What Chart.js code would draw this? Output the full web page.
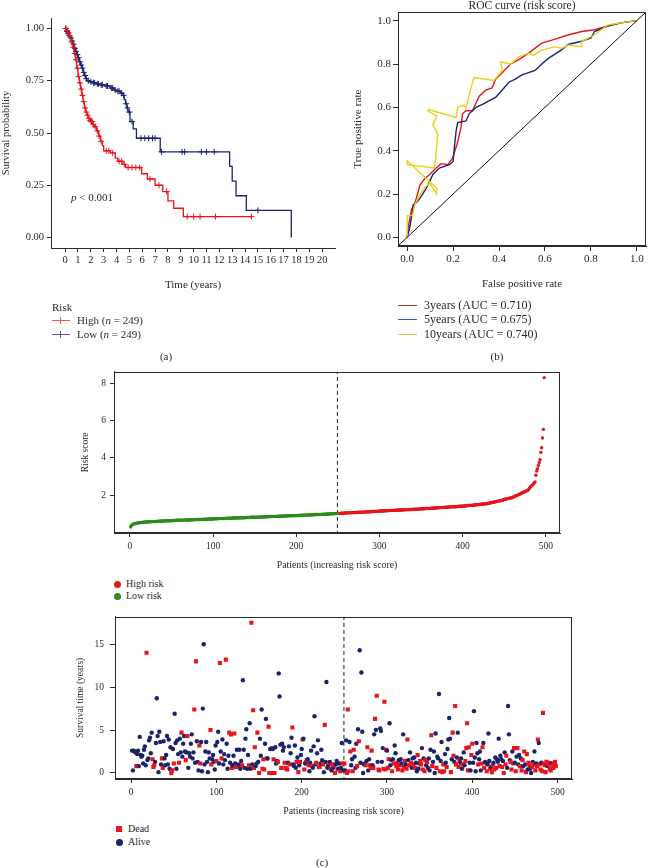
<!DOCTYPE html>
<html><head><meta charset="utf-8">
<script src="https://cdn.jsdelivr.net/npm/chart.js@4.4.1/dist/chart.umd.min.js"></script>
<style>
body{margin:0;background:#fff;width:649px;height:868px;position:relative;overflow:hidden;font-family:'Liberation Serif','Times New Roman',serif;color:#2a2a2a}
canvas{position:absolute}
.t{position:absolute;white-space:nowrap;font-family:'Liberation Serif','Times New Roman',serif;color:#2a2a2a;line-height:1}
.c{transform:translate(-50%,-50%)}
.l{transform:translate(0,-50%)}
.ln{position:absolute;height:1px}
</style></head><body>
<canvas id="km" style="left:0;top:0" width="340" height="300"></canvas>
<canvas id="roc" style="left:330px;top:0" width="319" height="300"></canvas>
<canvas id="risk" style="left:0;top:362px" width="649" height="210"></canvas>
<canvas id="surv" style="left:0;top:605px" width="649" height="215"></canvas>

<div class="t l" style="left:71px;top:197px;font-size:11px"><i>p</i> &lt; 0.001</div>

<div class="t l" style="left:52px;top:307px;font-size:11px">Risk</div>
<div class="ln" style="left:52px;top:320px;width:18px;background:#ee5555"></div>
<div class="ln" style="left:60px;top:317px;width:1px;height:7px;background:#ee5555"></div>
<div class="t l" style="left:77px;top:320px;font-size:11px">High (<i>n</i> = 249)</div>
<div class="ln" style="left:52px;top:334px;width:18px;background:#55598f"></div>
<div class="ln" style="left:60px;top:331px;width:1px;height:7px;background:#55598f"></div>
<div class="t l" style="left:77px;top:334px;font-size:11px">Low (<i>n</i> = 249)</div>
<div class="t c" style="left:166px;top:356px;font-size:11px">(a)</div>

<div class="ln" style="left:398px;top:305px;width:19px;background:#b03535"></div>
<div class="t l" style="left:424px;top:305px;font-size:12px">3years (AUC = 0.710)</div>
<div class="ln" style="left:398px;top:319px;width:19px;background:#4656b0"></div>
<div class="t l" style="left:424px;top:319px;font-size:12px">5years (AUC = 0.675)</div>
<div class="ln" style="left:398px;top:334px;width:19px;background:#cccc48"></div>
<div class="t l" style="left:424px;top:334px;font-size:12px">10years (AUC = 0.740)</div>
<div class="t c" style="left:497px;top:356px;font-size:11px">(b)</div>

<div style="position:absolute;left:113.5px;top:580.5px;width:7px;height:7px;border-radius:50%;background:#e31a1c"></div>
<div class="t l" style="left:126px;top:584px;font-size:10px">High risk</div>
<div style="position:absolute;left:113.5px;top:592.5px;width:7px;height:7px;border-radius:50%;background:#2e8b1e"></div>
<div class="t l" style="left:126px;top:596px;font-size:10px">Low risk</div>

<div style="position:absolute;left:116px;top:826px;width:6px;height:6px;background:#e31a1c"></div>
<div class="t l" style="left:128px;top:829px;font-size:10px">Dead</div>
<div style="position:absolute;left:115.5px;top:838.5px;width:7px;height:7px;border-radius:50%;background:#1a2366"></div>
<div class="t l" style="left:128px;top:842px;font-size:10px">Alive</div>
<div class="t c" style="left:322px;top:862px;font-size:11px">(c)</div>

<script>
// ---------- Kaplan-Meier data ----------
const kmHighTime = [0,0.1,0.2,0.3,0.4,0.5,0.6,0.7,0.8,0.9,1.0,1.1,1.2,1.3,1.4,1.5,1.6,1.7,1.8,1.9,2.0,2.15,2.3,2.45,2.6,2.75,2.9,3.0,3.5,3.9,4.1,4.5,4.7,5.95,6.4,7.0,7.6,8.0,8.45,9.2,14.55];
const kmHighSurv = [1,0.99,0.98,0.965,0.95,0.935,0.91,0.88,0.85,0.81,0.77,0.74,0.71,0.68,0.65,0.62,0.6,0.585,0.57,0.56,0.555,0.54,0.53,0.51,0.485,0.46,0.44,0.415,0.405,0.38,0.365,0.35,0.335,0.305,0.28,0.25,0.22,0.175,0.14,0.10,0.10];
const kmLowTime = [0,0.1,0.2,0.3,0.4,0.5,0.6,0.7,0.8,0.9,1.0,1.1,1.2,1.3,1.4,1.5,1.6,1.7,1.9,2.1,2.4,2.7,3.1,3.5,3.8,4.0,4.3,4.5,4.6,4.7,4.8,4.9,5.05,5.3,5.55,7.4,12.8,13.0,13.3,14.1,17.6];
const kmLowSurv = [1,0.985,0.975,0.965,0.955,0.94,0.925,0.905,0.89,0.875,0.86,0.84,0.825,0.81,0.79,0.775,0.76,0.75,0.745,0.74,0.735,0.73,0.725,0.715,0.705,0.70,0.69,0.68,0.66,0.64,0.62,0.60,0.555,0.52,0.475,0.41,0.34,0.27,0.20,0.13,0.0];
const kmHighCensor = [0.05,0.15,0.25,0.35,0.5,0.65,0.75,0.85,0.95,1.05,1.15,1.25,1.35,1.45,1.55,1.65,1.75,1.85,1.95,2.05,2.1,2.2,2.35,2.5,2.65,2.8,3.2,3.4,3.7,4.2,4.4,4.6,4.9,5.2,5.5,5.8,6.6,7.3,7.9,9.5,10.0,10.5,11.7,14.5];
const kmLowCensor = [0.05,0.15,0.25,0.35,0.45,0.55,0.65,0.75,0.85,0.95,1.05,1.15,1.25,1.35,1.45,1.55,1.65,1.8,2.0,2.2,2.3,2.5,2.6,2.8,2.9,3.2,3.3,3.6,3.7,3.9,4.1,4.2,4.4,4.55,4.75,4.85,5.0,5.2,5.9,6.2,6.5,6.8,7.0,7.5,9.1,9.3,10.6,11.0,11.6,15.0];
const kmXTicks = [0,1,2,3,4,5,6,7,8,9,10,11,12,13,14,15,16,17,18,19,20];
const kmYTicks = [0,0.25,0.5,0.75,1];

// ---------- ROC data ----------
const fpr3 = [0,0.004,0.01,0.019,0.03,0.04,0.055,0.076,0.098,0.126,0.148,0.177,0.198,0.22,0.234,0.241,0.256,0.284,0.30,0.313,0.342,0.37,0.385,0.414,0.45,0.486,0.529,0.586,0.63,0.70,0.76,0.816,0.888,0.93,1];
const tpr3 = [0,0.04,0.08,0.13,0.15,0.18,0.24,0.27,0.29,0.32,0.34,0.335,0.366,0.44,0.506,0.57,0.584,0.584,0.62,0.65,0.68,0.69,0.73,0.76,0.80,0.82,0.85,0.896,0.91,0.934,0.95,0.958,0.98,0.99,1];
const fpr5 = [0,0.01,0.02,0.026,0.04,0.055,0.083,0.112,0.14,0.184,0.2,0.205,0.213,0.22,0.256,0.27,0.3,0.33,0.356,0.385,0.414,0.443,0.471,0.5,0.557,0.586,0.615,0.672,0.70,0.76,0.80,0.816,0.874,0.93,1];
const tpr5 = [0,0.04,0.10,0.15,0.16,0.18,0.226,0.29,0.32,0.335,0.35,0.41,0.49,0.53,0.537,0.57,0.6,0.615,0.63,0.646,0.68,0.716,0.73,0.75,0.77,0.80,0.826,0.865,0.89,0.905,0.92,0.95,0.975,0.99,1];
const fpr10 = [0,0,0.023,0.033,0.052,0.076,0.098,0.129,0.129,0.09,0,0,0.119,0.134,0.112,0.129,0.09,0.093,0.213,0.22,0.249,0.256,0.29,0.378,0.414,0.407,0.45,0.486,0.529,0.55,0.586,0.644,0.672,0.70,0.759,0.759,0.816,0.874,0.93,1];
const tpr10 = [0,0.10,0.10,0.15,0.19,0.23,0.25,0.20,0.226,0.265,0.354,0.335,0.32,0.475,0.52,0.56,0.584,0.59,0.553,0.60,0.61,0.597,0.737,0.724,0.77,0.81,0.80,0.833,0.85,0.84,0.864,0.88,0.872,0.888,0.88,0.903,0.935,0.98,0.99,1];
const rocTicks = [0,0.2,0.4,0.6,0.8,1];

// ---------- Risk score data (patients ordered by increasing risk) ----------
const lowRiskScore = [
0.30,0.38,0.42,0.45,0.47,0.48,0.49,0.50,0.51,0.52,
0.53,0.53,0.54,0.55,0.55,0.56,
0.56,0.56,0.57,0.57,0.57,0.58,0.58,0.58,0.58,0.59,0.59,0.59,0.59,0.60,0.60,0.60,0.60,0.61,0.61,0.61,0.61,0.62,0.62,0.62,0.62,0.63,0.63,0.63,0.63,0.63,0.64,0.64,0.64,0.64,
0.65,0.65,0.65,0.65,0.65,0.66,0.66,0.66,0.66,0.66,0.66,0.67,0.67,0.67,0.67,0.67,0.68,0.68,0.68,0.68,0.68,0.68,0.69,0.69,0.69,0.69,0.69,0.70,0.70,0.70,0.70,0.70,0.70,0.71,0.71,0.71,0.71,0.71,0.72,0.72,0.72,0.72,0.72,0.72,0.73,0.73,0.73,0.73,0.73,0.73,
0.74,0.74,0.74,0.74,0.74,0.75,0.75,0.75,0.75,0.75,0.75,0.76,0.76,0.76,0.76,0.76,0.77,0.77,0.77,0.77,0.77,0.77,0.78,0.78,0.78,0.78,0.78,0.79,0.79,0.79,0.79,0.79,0.79,0.80,0.80,0.80,0.80,0.80,0.81,0.81,0.81,0.81,0.81,0.81,0.82,0.82,0.82,0.82,0.82,0.82,
0.83,0.83,0.83,0.83,0.83,0.84,0.84,0.84,0.84,0.84,0.84,0.85,0.85,0.85,0.85,0.85,0.86,0.86,0.86,0.86,0.86,0.86,0.87,0.87,0.87,0.87,0.87,0.88,0.88,0.88,0.88,0.88,0.88,0.89,0.89,0.89,0.89,0.89,0.90,0.90,0.90,0.90,0.90,0.90,0.91,0.91,0.91,0.91,0.91,0.91,
0.92,0.92,0.92,0.92,0.93,0.93,0.93,0.93,0.93,0.94,0.94,0.94,0.94,0.95,0.95,0.95,0.95,0.95,0.96,0.96,0.96,0.96,0.97,0.97,0.97,0.97,0.97,0.98,0.98,0.98,0.98,0.99,0.99,0.99,0.99,0.99,1.00,1.00,1.00,1.00,1.01,1.01,1.01,1.01,1.01,1.02,1.02,1.02,1.02];
const highRiskScore = [
1.03,1.03,1.03,1.03,1.04,1.04,1.04,1.04,1.05,1.05,1.05,1.05,1.06,1.06,1.06,1.06,1.07,1.07,1.07,1.07,1.08,1.08,1.08,1.08,1.09,1.09,1.09,1.09,1.09,1.10,1.10,1.10,1.10,1.11,1.11,1.11,1.11,1.12,1.12,1.12,1.12,1.13,1.13,1.13,1.13,1.14,1.14,1.14,1.15,1.15,1.15,
1.16,1.16,1.16,1.16,1.17,1.17,1.17,1.17,1.17,1.18,1.18,1.18,1.18,1.19,1.19,1.19,1.19,1.19,1.20,1.20,1.20,1.20,1.21,1.21,1.21,1.21,1.21,1.22,1.22,1.22,1.22,1.23,1.23,1.23,1.23,1.23,1.24,1.24,1.24,1.24,1.25,1.25,1.25,1.25,1.26,1.26,1.26,1.27,1.27,1.27,
1.28,1.28,1.28,1.28,1.29,1.29,1.29,1.30,1.30,1.30,1.30,1.31,1.31,1.31,1.32,1.32,1.32,1.32,1.33,1.33,1.33,1.34,1.34,1.34,1.34,1.35,1.35,1.35,1.36,1.36,1.36,1.36,1.37,1.37,1.37,1.38,1.38,1.38,1.38,1.39,1.39,1.39,1.40,1.40,1.40,1.41,1.41,1.41,1.42,1.42,
1.43,1.43,1.43,1.44,1.44,1.45,1.45,1.45,1.46,1.46,1.47,1.47,1.47,1.48,1.48,1.49,1.49,1.50,1.50,1.51,1.51,1.52,1.52,1.53,1.53,1.54,1.54,1.55,1.55,1.56,
1.57,1.58,1.59,1.60,1.61,1.62,1.63,1.64,1.65,1.66,1.67,1.68,1.69,1.70,1.71,1.72,1.73,1.74,1.76,1.78,
1.79,1.80,1.81,1.82,1.83,1.84,1.85,1.86,1.87,1.89,1.91,1.93,1.95,1.97,1.99,2.01,2.03,2.05,2.07,2.10,
2.12,2.14,2.16,2.18,2.20,2.22,2.24,2.26,2.30,2.36,2.42,2.48,2.52,2.56,2.60,
2.66,2.72,3.07,3.30,3.43,3.60,3.76,3.90,4.30,4.55,5.07,5.53,8.30];
const riskXTicks = [0,100,200,300,400,500];
const riskYTicks = [2,4,6,8];
const cutoffPatient = 249.5;

// ---------- Survival time / status per patient (same order) ----------
const survTime = [
2.6,0.3,2.6,2.5,2.4,0.8,2.2,2.6,0.8,4.2,
2.1,1.9,2.0,1.1,2.7,3.1,0.9,14.0,1.5,1.7,
3.8,4.1,2.3,4.7,1.6,0.7,0.9,1.3,3.5,8.7,
4.3,0.1,4.8,3.6,1.0,1.7,0.6,3.7,1.7,0.9,
2.1,4.3,1.0,3.9,0.5,3.0,0.0,0.3,2.8,1.1,
6.9,3.5,0.5,3.8,2.2,1.2,4.0,2.4,4.7,1.9,
3.4,4.3,2.5,1.5,2.4,4.3,0.6,2.3,1.9,3.4,
4.5,1.7,2.4,7.4,1.2,13.0,3.7,1.3,0.3,3.2,
1.1,3.6,0.2,7.5,15.0,1.0,2.5,3.6,1.3,0.1,
2.4,1.7,5.0,1.0,1.6,2.1,1.3,0.4,3.2,1.4,
3.6,4.8,1.1,12.8,2.5,1.7,3.9,1.0,2.2,1.5,
13.2,3.4,0.5,2.0,4.7,1.2,4.5,0.6,0.9,2.0,
4.6,1.1,0.7,2.7,0.8,1.0,2.7,0.5,1.4,0.9,
10.8,2.7,0.6,4.0,5.1,0.5,2.1,0.9,5.8,0.5,
17.5,1.0,7.3,0.6,3.0,0.8,1.1,4.7,1.3,0.0,
4.0,2.0,7.4,0.5,1.6,0.4,3.4,6.3,1.7,1.7,
5.4,0.0,2.8,0.0,2.9,2.8,1.6,0.0,3.0,1.1,
1.4,1.3,11.6,8.9,3.3,0.6,3.4,2.6,3.0,1.2,
0.6,0.5,0.4,1.2,3.1,1.0,2.3,4.1,5.3,1.0,
0.8,3.2,0.6,1.3,1.8,0.1,0.9,1.3,2.1,2.8,
3.9,4.0,0.4,1.1,1.3,1.5,1.6,0.9,0.2,1.2,
2.6,0.8,0.6,3.1,6.6,1.0,1.2,2.3,3.8,0.7,
0.7,1.1,2.7,1.5,1.0,0.1,5.6,1.3,10.6,0.6,
0.9,1.2,1.3,0.5,0.3,1.0,0.6,0.9,0.0,1.0,
1.4,0.4,0.5,1.1,0.2,0.6,3.5,1.1,0.3,
1.1,0.3,3.8,0.0,7.4,0.2,3.6,2.5,0.9,1.6,
0.2,2.7,1.9,0.6,3.4,0.8,5.1,3.7,14.3,1.2,
11.7,4.8,0.0,1.0,1.1,0.9,1.4,3.0,0.3,1.6,
0.9,0.6,2.6,0.9,0.6,4.5,6.3,5.0,9.0,1.3,
0.4,0.3,5.2,4.9,1.3,2.9,0.5,8.3,0.4,2.7,
2.6,0.6,1.6,5.8,0.9,1.5,0.2,1.6,1.1,3.2,
2.3,0.8,1.2,0.4,1.5,0.9,1.6,1.1,0.3,4.5,
0.7,1.4,1.0,0.5,3.9,1.5,0.9,2.4,1.2,0.6,
1.7,1.0,1.8,0.6,1.2,0.2,2.1,0.5,1.1,1.4,
1.0,2.9,0.4,1.7,0.2,1.5,0.9,1.3,0.6,1.7,
0.3,2.7,4.4,0.8,1.3,2.5,0.0,4.6,0.6,1.9,
1.7,9.2,0.2,1.4,3.6,0.1,1.0,0.2,2.2,1.2,
0.7,2.8,3.9,6.4,4.0,0.1,1.6,4.7,2.0,1.3,
7.8,1.0,1.8,4.7,0.7,1.5,1.2,1.7,0.5,1.0,
2.4,0.9,1.4,2.9,5.8,0.3,3.0,1.2,0.3,2.1,
3.4,1.2,7.2,1.8,0.2,3.5,2.3,1.0,1.6,2.5,
0.3,1.1,3.0,3.5,0.6,1.3,1.2,0.2,1.0,4.6,
1.4,0.5,0.7,0.1,0.9,1.2,0.4,1.8,0.6,1.6,
1.3,4.0,0.8,2.0,1.6,0.7,1.4,0.0,2.4,1.0,
2.0,0.6,7.8,4.5,1.5,1.3,0.4,2.5,1.1,2.9,
1.2,0.2,1.9,2.9,1.0,2.1,0.8,1.7,0.3,1.5,
0.8,2.5,1.0,0.1,2.2,0.4,1.2,0.9,0.5,0.0,
0.7,1.3,1.0,2.5,0.3,1.1,0.8,3.9,3.5,1.0,
0.4,1.2,0.2,7.0,1.1,0.9,0.1,1.3,0.8,1.0,
1.2,0.5,0.3,1.1,0.9,0.6,1.0,1.3,0.8];
const survStatus = [
0,0,0,0,0,1,0,0,0,0,
0,0,0,0,0,0,0,1,0,0,
0,0,0,0,1,1,1,0,0,0,
0,0,0,0,0,1,1,0,0,0,
0,0,0,0,0,0,1,1,0,1,
0,0,0,0,0,1,0,0,1,0,
0,0,0,1,0,1,0,0,0,0,
0,0,0,1,0,1,0,0,0,1,
1,0,0,0,0,0,0,0,0,0,
0,0,1,1,0,0,0,0,0,1,
0,0,0,1,0,1,0,0,0,0,
1,0,0,0,1,0,1,1,0,0,
1,0,1,0,1,0,0,0,0,1,
0,0,0,0,0,0,0,1,0,0,
1,0,1,1,1,0,0,1,0,1,
0,0,0,1,1,1,0,0,1,0,
1,1,0,1,0,0,1,1,0,0,
0,1,0,0,0,1,0,0,0,1,
1,1,1,0,0,1,0,0,1,0,
0,0,0,1,0,1,0,1,0,0,
1,0,1,0,0,1,0,1,0,0,
0,1,0,0,0,0,1,0,0,1,
1,0,0,0,1,0,1,0,0,0,
0,1,0,1,0,1,0,1,1,0,
0,1,0,0,1,0,0,1,0,
1,0,0,1,1,1,0,1,0,0,
1,1,0,0,0,1,0,1,0,0,
0,0,0,0,0,1,0,1,0,0,
1,1,1,0,1,0,1,0,1,0,
1,1,0,0,0,0,1,1,1,1,
0,1,1,0,0,0,1,0,1,0,
0,1,1,1,0,1,0,0,1,0,
1,1,0,1,1,0,1,0,1,0,
0,1,0,1,0,0,1,0,0,1,
1,0,1,0,1,1,0,1,0,0,
0,0,1,1,0,0,0,0,1,0,
0,0,1,0,0,1,1,1,0,0,
1,0,0,0,0,1,0,1,1,0,
1,1,0,0,1,1,0,0,0,1,
0,0,1,1,1,1,1,0,0,1,
1,0,0,0,0,0,0,1,0,0,
0,1,1,0,1,0,0,1,0,0,
0,1,0,1,1,0,1,0,1,0,
0,0,1,0,0,1,0,1,0,1,
1,0,0,0,0,1,1,0,1,1,
0,1,0,1,0,0,1,0,1,1,
0,1,0,1,1,0,1,1,0,0,
1,0,1,0,1,0,1,1,0,1,
1,0,1,1,1,1,1,1,0,1,
1,1,1,0,1,1,1,1,1];
const survXTicks = [0,100,200,300,400,500];
const survYTicks = [0,5,10,15];

// ---------- helpers ----------
const FONT = "'Liberation Serif','Times New Roman',serif";
const TXT = '#2a2a2a';
const AX = '#2a2a2a';
const RED = '#e8141c', NAVY = '#1c2470', GREEN = '#2e8b1e', YEL = '#e6d31a';

function kmAt(T, S, t){ let v = S[0]; for (let i=0;i<T.length;i++){ if (T[i] <= t) v = S[i]; } return v; }
function pts(xs, ys){ return xs.map((x,i)=>({x:x, y:ys[i]})); }

const boxPlugin = { id:'box', afterDatasetsDraw(chart, args, opts){
  if (!opts || !opts.on) return;
  const {ctx, chartArea:a} = chart; ctx.save(); ctx.strokeStyle = AX; ctx.lineWidth = 1;
  ctx.strokeRect(Math.round(a.left)+0.5, Math.round(a.top)+0.5, Math.round(a.right-a.left)-1, Math.round(a.bottom-a.top)-1);
  ctx.restore(); } };

function scale(o){
  return {
    type:'linear', position:o.pos, min:o.min, max:o.max,
    afterBuildTicks: ax => { ax.ticks = o.ticks.map(v=>({value:v})); },
    afterFit: s => { if (o.pos==='left') s.width = o.size; else s.height = o.size; },
    grid:{display:true, drawOnChartArea:false, drawTicks:true, tickLength:o.tl, tickColor:AX, tickWidth:1},
    border:{display:true, color:AX, width:1},
    ticks:{color:TXT, font:{family:FONT, size:o.fs}, padding:o.pad, maxRotation:0, minRotation:0, autoSkip:false, callback:o.fmt},
    title:{display:true, text:o.title, color:TXT, font:{family:FONT, size:o.tfs}, padding:o.tpad}
  };
}
const base = { responsive:false, animation:false, events:[], maintainAspectRatio:false };

// ---------- (a) Kaplan-Meier ----------
new Chart(document.getElementById('km'), {
  type:'scatter',
  data:{ datasets:[
    {data:pts(kmHighTime, kmHighSurv), showLine:true, stepped:'before', borderColor:RED, borderWidth:1.3, pointRadius:0},
    {data:pts(kmLowTime, kmLowSurv), showLine:true, stepped:'before', borderColor:NAVY, borderWidth:1.3, pointRadius:0},
    {data:kmHighCensor.map(t=>({x:t, y:kmAt(kmHighTime,kmHighSurv,t)})), pointStyle:'cross', pointRadius:3, borderColor:RED, borderWidth:1},
    {data:kmLowCensor.map(t=>({x:t, y:kmAt(kmLowTime,kmLowSurv,t)})), pointStyle:'cross', pointRadius:3, borderColor:NAVY, borderWidth:1}
  ]},
  options:Object.assign({}, base, {
    layout:{padding:{left:0, top:18, right:5, bottom:0}},
    plugins:{legend:{display:false}, tooltip:{enabled:false}},
    scales:{
      x: scale({pos:'bottom', min:-1.1, max:21, ticks:kmXTicks, size:52, tl:4, pad:2, fs:10.5, fmt:v=>String(v), title:'Time (years)', tfs:11, tpad:{top:0,bottom:8}}),
      y: scale({pos:'left', min:-0.05, max:1.05, ticks:kmYTicks, size:51, tl:4, pad:3, fs:10.5, fmt:v=>v.toFixed(2), title:'Survival probability', tfs:10.5, tpad:{top:0,bottom:0}})
    }
  })
});

// ---------- (b) ROC ----------
new Chart(document.getElementById('roc'), {
  type:'scatter',
  plugins:[boxPlugin],
  data:{ datasets:[
    {data:[{x:-0.05,y:-0.05},{x:1.05,y:1.05}], showLine:true, borderColor:'#111', borderWidth:1, pointRadius:0},
    {data:pts(fpr10, tpr10), showLine:true, borderColor:YEL, borderWidth:1.4, pointRadius:0},
    {data:pts(fpr5, tpr5), showLine:true, borderColor:NAVY, borderWidth:1.4, pointRadius:0},
    {data:pts(fpr3, tpr3), showLine:true, borderColor:RED, borderWidth:1.4, pointRadius:0}
  ]},
  options:Object.assign({}, base, {
    layout:{padding:{left:0, top:0, right:3, bottom:0}},
    plugins:{legend:{display:false}, tooltip:{enabled:false}, box:{on:true},
      title:{display:true, text:'ROC curve (risk score)', fullSize:false, color:TXT, font:{family:FONT, size:11.5, weight:'normal', lineHeight:1}, padding:{top:0, bottom:0.5}}},
    scales:{
      x: scale({pos:'bottom', min:-0.04, max:1.04, ticks:rocTicks, size:54, tl:5, pad:2, fs:11, fmt:v=>v.toFixed(1), title:'False positive rate', tfs:11, tpad:{top:0,bottom:9}}),
      y: scale({pos:'left', min:-0.04, max:1.04, ticks:rocTicks, size:68, tl:5, pad:2, fs:11, fmt:v=>v.toFixed(1), title:'True positive rate', tfs:11.3, tpad:{top:21,bottom:0}})
    }
  })
});

// ---------- (c) risk score ----------
new Chart(document.getElementById('risk'), {
  type:'scatter',
  plugins:[boxPlugin],
  data:{ datasets:[
    {data:lowRiskScore.map((v,i)=>({x:i+1, y:v})), pointRadius:1.7, pointBorderWidth:0, backgroundColor:GREEN, borderWidth:0},
    {data:highRiskScore.map((v,i)=>({x:lowRiskScore.length+i+1, y:v})), pointRadius:1.7, pointBorderWidth:0, backgroundColor:RED, borderWidth:0},
    {data:[{x:cutoffPatient,y:-5},{x:cutoffPatient,y:20}], showLine:true, borderColor:'#222', borderWidth:1, borderDash:[4,3], pointRadius:0}
  ]},
  options:Object.assign({}, base, {
    layout:{padding:{left:0, top:8, right:89, bottom:0}},
    plugins:{legend:{display:false}, tooltip:{enabled:false}, box:{on:true}},
    scales:{
      x: scale({pos:'bottom', min:-19, max:517, ticks:riskXTicks, size:39, tl:4, pad:4, fs:9.5, fmt:v=>String(v), title:'Patients (increasing risk score)', tfs:9.8, tpad:{top:0,bottom:1}}),
      y: scale({pos:'left', min:-0.02, max:8.62, ticks:riskYTicks, size:114, tl:4, pad:4, fs:9.5, fmt:v=>String(v), title:'Risk score', tfs:9.5, tpad:{top:80,bottom:0}})
    }
  })
});

// ---------- (c) survival time ----------
new Chart(document.getElementById('surv'), {
  type:'scatter',
  plugins:[boxPlugin],
  data:{ datasets:[
    {data:survTime.map((v,i)=>({x:i+1, y:v})),
     pointStyle: c => survStatus[c.dataIndex] ? 'rect' : 'circle',
     pointRadius: c => survStatus[c.dataIndex] ? 2.9 : 2.2,
     backgroundColor: c => survStatus[c.dataIndex] ? RED : '#1a2366',
     pointBorderWidth:0, borderWidth:0},
    {data:[{x:cutoffPatient,y:-5},{x:cutoffPatient,y:30}], showLine:true, borderColor:'#222', borderWidth:1, borderDash:[4,3], pointRadius:0}
  ]},
  options:Object.assign({}, base, {
    layout:{padding:{left:0, top:8, right:77, bottom:0}},
    plugins:{legend:{display:false}, tooltip:{enabled:false}, box:{on:true}},
    scales:{
      x: scale({pos:'bottom', min:-19, max:517, ticks:survXTicks, size:41, tl:4, pad:4, fs:9.5, fmt:v=>String(v), title:'Patients (increasing risk score)', tfs:9.8, tpad:{top:0,bottom:3}}),
      y: scale({pos:'left', min:-0.7, max:18.2, ticks:survYTicks, size:115, tl:5, pad:6, fs:9.5, fmt:v=>String(v), title:'Survival time (years)', tfs:9.5, tpad:{top:75,bottom:0}})
    }
  })
});
</script>
</body></html>
